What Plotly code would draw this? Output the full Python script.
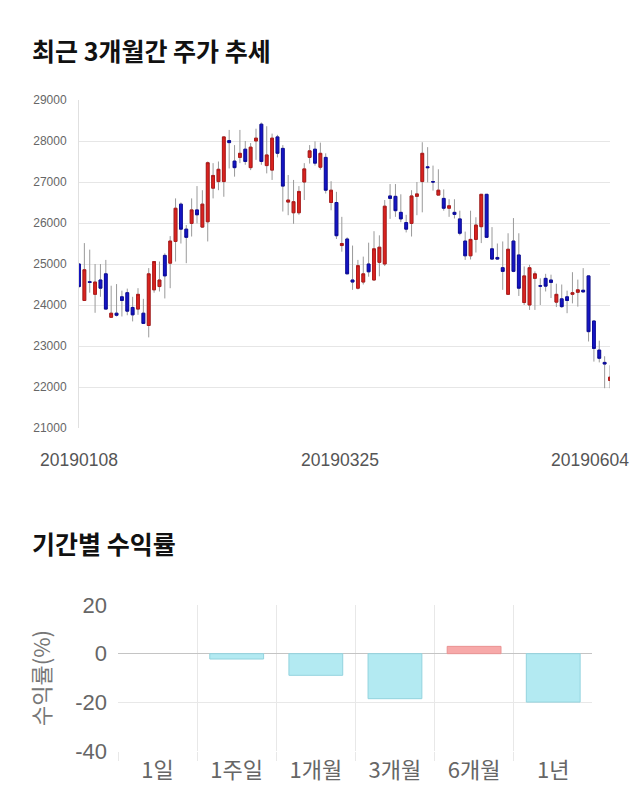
import pandas as pd
import plotly.graph_objects as go

# ---------------- data ----------------
holidays = ["2019-02-04", "2019-02-05", "2019-02-06", "2019-03-01", "2019-05-01", "2019-05-06"]
days = [d for d in pd.bdate_range("2019-01-08", "2019-06-04") if d.strftime("%Y-%m-%d") not in holidays]
dates = [d.strftime("%Y%m%d") for d in days]

opens = [25000, 24110, 24570, 24260, 24610, 24760, 23700, 23800, 24200, 24300,
         23940, 23900, 23800, 23500, 24370, 24450, 25210, 25020, 25550, 26460,
         25850, 25990, 26320, 25900, 26030, 26850, 27010, 27010, 28010, 27510,
         27600, 27800, 27350, 28000, 28410, 27400, 27290, 28100, 27820, 26510,
         26250, 26250, 27000, 27600, 27800, 27360, 27600, 26500, 26500, 25450,
         25610, 24610, 24410, 24560, 25000, 24610, 25040, 25000, 26660, 26650,
         26260, 26010, 25990, 26650, 27010, 27370, 27010, 26680, 26600, 26360,
         26260, 26100, 25560, 25200, 25600, 25910, 26700, 25370, 25160, 24910,
         24260, 25560, 25220, 24060, 24000, 24650, 24470, 24650, 24610, 24070,
         24150, 24200, 24260, 24310, 24360, 24710, 23610, 22900, 22600, 22160]
highs = [25020, 25510, 25350, 25000, 25000, 25100, 24470, 24510, 24350, 24400,
         24200, 24410, 24150, 24900, 25070, 25060, 25260, 25680, 26600, 26500,
         25950, 26600, 26900, 26800, 27500, 27460, 27500, 28110, 28270, 27900,
         28270, 28000, 27950, 28300, 28450, 28360, 28180, 28150, 27900, 27170,
         27050, 26900, 27460, 27900, 27990, 27960, 27700, 27020, 26760, 26150,
         25650, 25450, 25100, 25180, 25520, 25800, 25700, 26560, 26950, 26950,
         26700, 26200, 26800, 27000, 27970, 27850, 27400, 27310, 26820, 26580,
         26580, 26300, 25790, 26300, 26140, 26700, 26700, 25900, 25500, 25550,
         25750, 26120, 25750, 24940, 24980, 24820, 24650, 24760, 24740, 24520,
         24500, 24350, 24800, 24620, 24900, 24720, 23620, 23130, 22750, 22530]
lows = [24420, 24100, 24300, 23810, 24200, 23900, 23700, 23720, 23720, 23750,
        23600, 23760, 23550, 23210, 24300, 24330, 24160, 24410, 25060, 25500,
        25020, 25670, 25990, 25880, 25550, 26600, 26800, 26640, 27330, 27130,
        27460, 27420, 27290, 27540, 27420, 27210, 27050, 27600, 26280, 26190,
        25980, 26200, 26560, 27450, 27400, 27300, 26720, 26310, 25610, 25300,
        24760, 24370, 24380, 24500, 24690, 24600, 24700, 24950, 26100, 26150,
        26020, 25770, 25670, 26190, 26260, 26990, 26790, 26680, 26300, 26150,
        26110, 25700, 25100, 25110, 25280, 25510, 25650, 25100, 25100, 24370,
        24250, 24800, 24220, 24000, 23880, 23880, 24000, 24330, 24170, 23950,
        23930, 23800, 24040, 23960, 24300, 23110, 22620, 22600, 21970, 21970]
closes = [24450, 24860, 24550, 24560, 24410, 23900, 23800, 23750, 24110, 23850,
          23760, 24260, 23550, 24760, 25060, 24610, 24710, 25560, 26360, 25850,
          25650, 26320, 26200, 26460, 27470, 27160, 27310, 28100, 27960, 27350,
          27700, 27500, 27850, 28070, 27500, 27660, 28070, 27700, 26900, 26560,
          26520, 26770, 27320, 27760, 27460, 27700, 26800, 26800, 25690, 25500,
          24760, 24560, 24960, 24760, 24810, 25370, 25410, 26410, 26600, 26300,
          26100, 25850, 26660, 26710, 27700, 27350, 27000, 26800, 26360, 26420,
          26210, 25750, 25200, 25600, 25950, 26700, 25650, 25120, 25120, 24820,
          25360, 24820, 24410, 24710, 24910, 24760, 24460, 24460, 24550, 24260,
          23960, 24110, 24300, 24370, 24320, 23350, 22940, 22700, 22560, 22240]

dates = dates[:len(opens)]
label_idx = [0, 50, len(dates) - 1]

periods = ["1일", "1주일", "1개월", "3개월", "6개월", "1년"]
returns = [0.0, -2.2, -8.9, -18.5, 3.0, -19.9]

ret_ticks = [20, 0, -20, -40]
ret_tick_text = ["20", "0", "-20", "-40"]

# ---------------- figure ----------------
PAGE_MARGIN = 8            # default body margin of the html page
W, H = 640 - PAGE_MARGIN, 810 - PAGE_MARGIN
fig = go.Figure()

body_hi = [max(o, c) for o, c in zip(opens, closes)]
body_lo = [min(o, c) for o, c in zip(opens, closes)]

# wicks (gray)
fig.add_trace(go.Candlestick(
    x=dates, open=opens, high=highs, low=lows, close=closes,
    increasing=dict(line=dict(color="#9a9a9a", width=1), fillcolor="#9a9a9a"),
    decreasing=dict(line=dict(color="#9a9a9a", width=1), fillcolor="#9a9a9a"),
    hoverinfo="skip", showlegend=False, xaxis="x", yaxis="y"))
# bodies (coloured)
fig.add_trace(go.Candlestick(
    x=dates, open=opens, high=body_hi, low=body_lo, close=closes,
    increasing=dict(line=dict(color="#b01a1a", width=1), fillcolor="#d9231f"),
    decreasing=dict(line=dict(color="#0c0c9c", width=1), fillcolor="#1515c4"),
    showlegend=False, xaxis="x", yaxis="y"))

bar_colors = ["#f7a9a9" if v > 0 else "#b3eaf2" for v in returns]
bar_lines = ["rgba(0,0,0,0)" if v == 0 else ("#e99393" if v > 0 else "#93d3de") for v in returns]
fig.add_trace(go.Bar(
    x=periods, y=returns, width=0.68,
    marker=dict(color=bar_colors, line=dict(color=bar_lines, width=1)),
    showlegend=False, xaxis="x2", yaxis="y2"))

def px_x(p):
    return (p - PAGE_MARGIN) / W

def px_y(p):
    return (H - (p - PAGE_MARGIN)) / H

axis_font = "Liberation Sans, Arial, Noto Sans CJK KR, sans-serif"
kr_font = "Noto Sans CJK KR, Liberation Sans, sans-serif"

fig.update_layout(
    template="none",
    width=W, height=H,
    margin=dict(l=0, r=0, t=0, b=0, pad=0),
    paper_bgcolor="white", plot_bgcolor="white",
    boxgap=0.25,
    xaxis=dict(
        domain=[px_x(79), px_x(610)], automargin=False,
        anchor="y", type="category",
        range=[0, len(dates) - 1],
        showgrid=False, showticklabels=False, ticks="",
        rangeslider=dict(visible=False), zeroline=False, showline=False,
        fixedrange=True),
    yaxis=dict(
        domain=[px_y(428), px_y(100)], automargin=False,
        anchor="x", range=[21000, 29000], dtick=1000, tickformat="d",
        showgrid=True, gridcolor="#e6e6e6", gridwidth=1,
        showline=True, linecolor="#e0e0e0", linewidth=1,
        zeroline=False, ticks="", ticklabelstandoff=9,
        tickfont=dict(family=axis_font, size=12, color="#666666")),
    xaxis2=dict(
        domain=[px_x(118), px_x(592)], automargin=False,
        anchor="y2", type="category", range=[-0.5, 5.49],
        tickson="boundaries", showgrid=True, gridcolor="#e8e8e8", gridwidth=1,
        ticks="outside", ticklen=9, tickcolor="#e8e8e8", tickwidth=1,
        ticklabelstandoff=4,
        showline=False, zeroline=False,
        tickfont=dict(family=kr_font, size=22, color="#666666")),
    yaxis2=dict(
        domain=[px_y(751), px_y(605)], automargin=False,
        anchor="x2", range=[-40, 20],
        tickvals=ret_ticks, ticktext=ret_tick_text,
        showgrid=True, gridcolor="#e8e8e8", gridwidth=1,
        zeroline=True, zerolinecolor="#c4c4c4", zerolinewidth=1,
        showline=False, ticks="", ticklabelstandoff=10,
        tickfont=dict(family=axis_font, size=22, color="#666666"),
        title=dict(text="수익률(%)", standoff=18,
                   font=dict(family=kr_font, size=22, color="#777777"))),
)

annotations = [
    dict(text="<b>최근 3개월간 주가 추세</b>", x=px_x(30), y=px_y(50),
         xref="paper", yref="paper", xanchor="left", yanchor="middle",
         showarrow=False, font=dict(family=kr_font, size=25, color="#111111")),
    dict(text="<b>기간별 수익률</b>", x=px_x(30), y=px_y(543),
         xref="paper", yref="paper", xanchor="left", yanchor="middle",
         showarrow=False, font=dict(family=kr_font, size=25, color="#111111")),
]
shifts = [0, -7, 21]
anchors = ["center", "center", "right"]
for i, s, a in zip(label_idx, shifts, anchors):
    annotations.append(dict(
        text=dates[i], x=i, y=px_y(460), xref="x", yref="paper",
        xanchor=a, yanchor="middle", xshift=s, showarrow=False,
        font=dict(family=axis_font, size=17.5, color="#555555")))
fig.update_layout(annotations=annotations)

fig.write_html("out.html")
